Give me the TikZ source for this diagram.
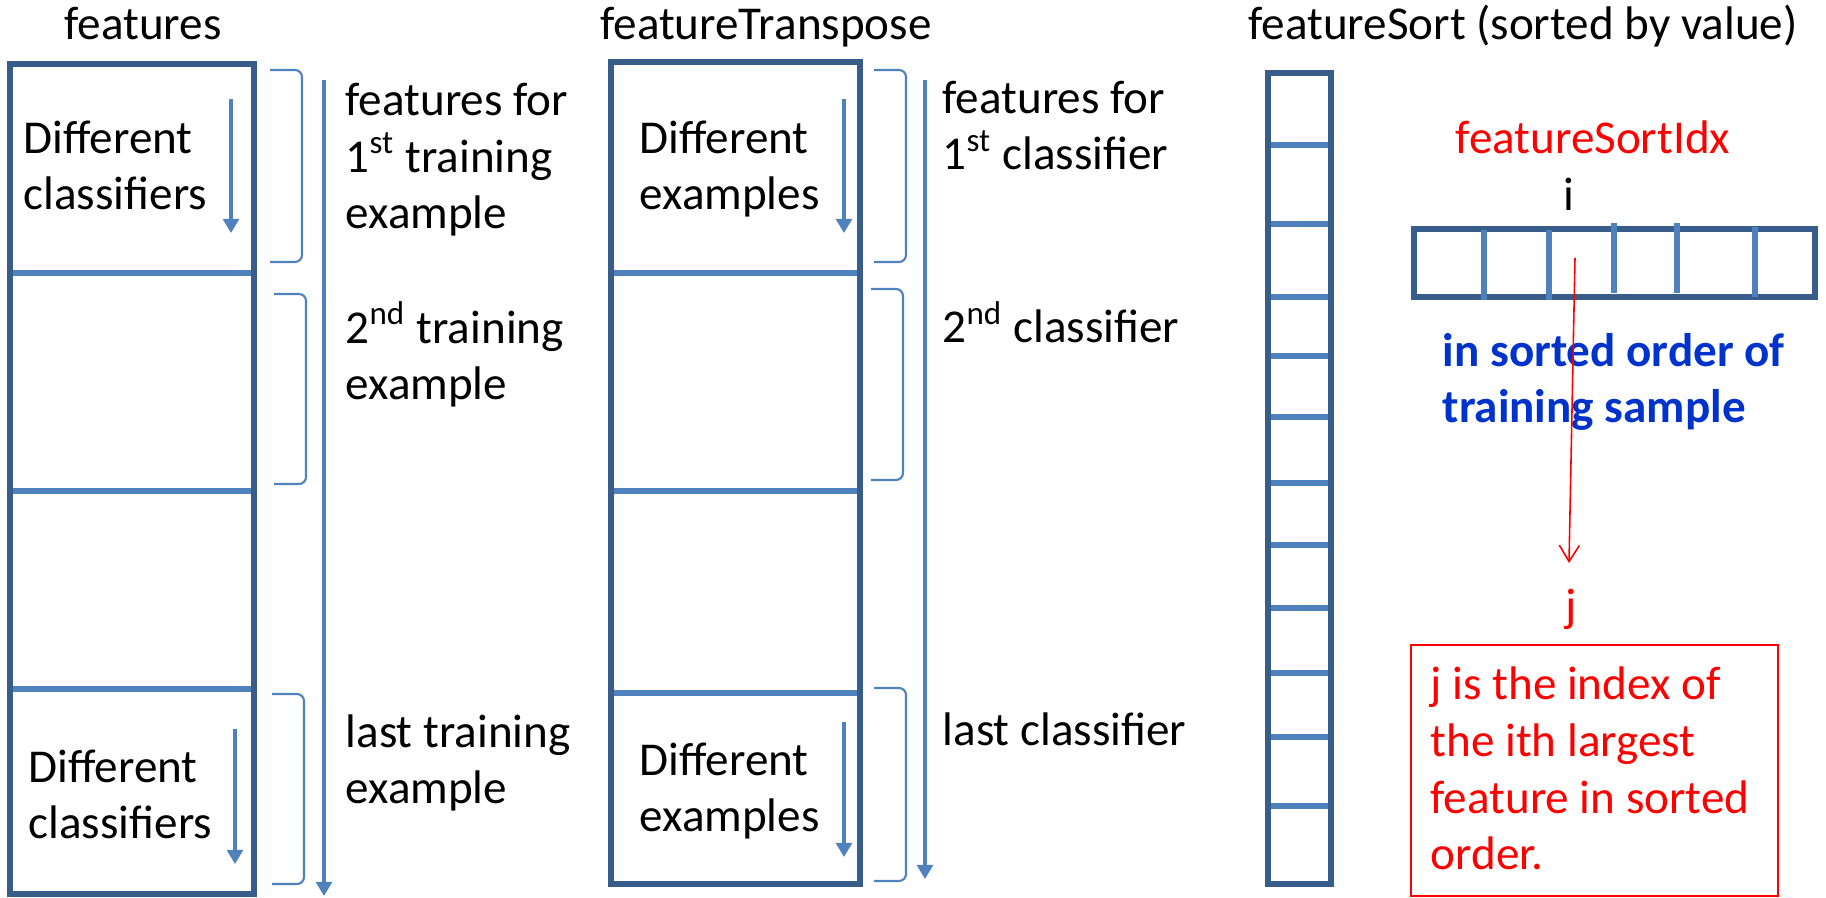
\documentclass[tikz,border=0pt]{standalone}
\usepackage{fontspec}
\setmainfont{Carlito}
\usetikzlibrary{arrows.meta}
\definecolor{boxBlue}{RGB}{56,93,138}
\definecolor{lineBlue}{RGB}{79,129,189}
\definecolor{noteBlue}{RGB}{0,51,204}
\definecolor{noteRed}{RGB}{255,0,0}

\begin{document}
\begin{tikzpicture}[x=0.01cm, y=-0.01cm,
    every node/.style={inner sep=0pt, font=\fontsize{13.4}{16.2}\selectfont},
    matbox/.style={draw=boxBlue, line width=1.8pt},
    rowline/.style={draw=lineBlue, line width=1.9pt},
    brace/.style={draw=lineBlue, line width=0.6pt, rounded corners=2pt},
    flow/.style={draw=lineBlue, line width=0.9pt, -{Triangle[length=4pt,width=4.5pt]}},
    lbl/.style={anchor=base west, align=left}]
    \useasboundingbox (0,0) rectangle (1826,898);

    % titles
    \node[anchor=base] (tFeat) at (143,40) {features};
    \node[anchor=base] (tTrans) at (766,40) {featureTranspose};
    \node[anchor=base] (tSort) at (1523,40) {featureSort (sorted by value)};

    % features and featureTranspose
    \draw[matbox] (10,64) rectangle (254,894);
    \foreach \y in {273,491,689} \draw[rowline] (13,\y) -- (251,\y);
    \draw[matbox] (611,62) rectangle (860,884);
    \foreach \y in {273,491,693} \draw[rowline] (614,\y) -- (857,\y);

    \foreach \xa/\ya/\yb in {270/70/262, 274/294/484, 272/694/884, 874/70/262, 871/289/480, 874/688/881}
        \draw[brace] (\xa,\ya) -| (\xa+32,\yb) -- (\xa,\yb);

    \draw[flow] (324,80) -- (324,896);
    \draw[flow] (925,80) -- (925,879);
    \foreach \x/\ya/\yb in {231/99/233, 235/729/864, 844/99/233, 844/722/857}
        \draw[flow] (\x,\ya) -- (\x,\yb);

    % multi-line labels sit on their last baseline
    \node[lbl] (diffA) at (23,210) {Different\\classifiers};
    \node[lbl] (diffB) at (28,839) {Different\\classifiers};
    \node[lbl] (diffC) at (639,210) {Different\\examples};
    \node[lbl] (diffD) at (639,832) {Different\\examples};

    \node[lbl] (ex1) at (345,229) {features for\\1\textsuperscript{st} training\\example};
    \node[lbl] (ex2) at (345,400) {2\textsuperscript{nd} training\\example};
    \node[lbl] (exN) at (345,804) {last training\\example};
    \node[lbl] (cl1) at (942,170) {features for\\1\textsuperscript{st} classifier};
    \node[lbl] (cl2) at (942,343) {2\textsuperscript{nd} classifier};
    \node[lbl] (clN) at (942,746) {last classifier};

    % featureSort
    \draw[matbox] (1268,73) rectangle (1331,884);
    \foreach \y in {145,224,297,356,417,483,545,608,673,737,806} \draw[rowline] (1271,\y) -- (1328,\y);

    % featureSortIdx
    \node[anchor=base, text=noteRed] (idxName) at (1593,154) {featureSortIdx};
    \node[anchor=base] (iLbl) at (1569,211) {i};
    \draw[matbox] (1414,229) rectangle (1815,297);
    \foreach \x/\ya/\yb in {1484/230/300, 1549/230/300, 1614/223/293, 1677/223/293, 1755/227/297}
        \draw[rowline] (\x,\ya) -- (\x,\yb);

    \node[lbl, text=noteBlue, font=\fontsize{13.4}{16.2}\selectfont\bfseries] (orderNote) at (1442,423) {in sorted order of\\training sample};

    \coordinate (idxCell) at (1575,258);
    \coordinate (jTip) at (1569,563);
    \draw[noteRed, line width=0.45pt, -{Straight Barb[length=4.6pt,width=5.7pt]}] (idxCell) -- (jTip);

    \node[anchor=base, text=noteRed] (jLbl) at (1571,622) {j};
    \draw[noteRed, line width=0.6pt] (1411,645) rectangle (1778,896);
    \node[lbl, text=noteRed] (jNote) at (1430,870) {j is the index of\\the ith largest\\feature in sorted\\order.};
\end{tikzpicture}
\end{document}
